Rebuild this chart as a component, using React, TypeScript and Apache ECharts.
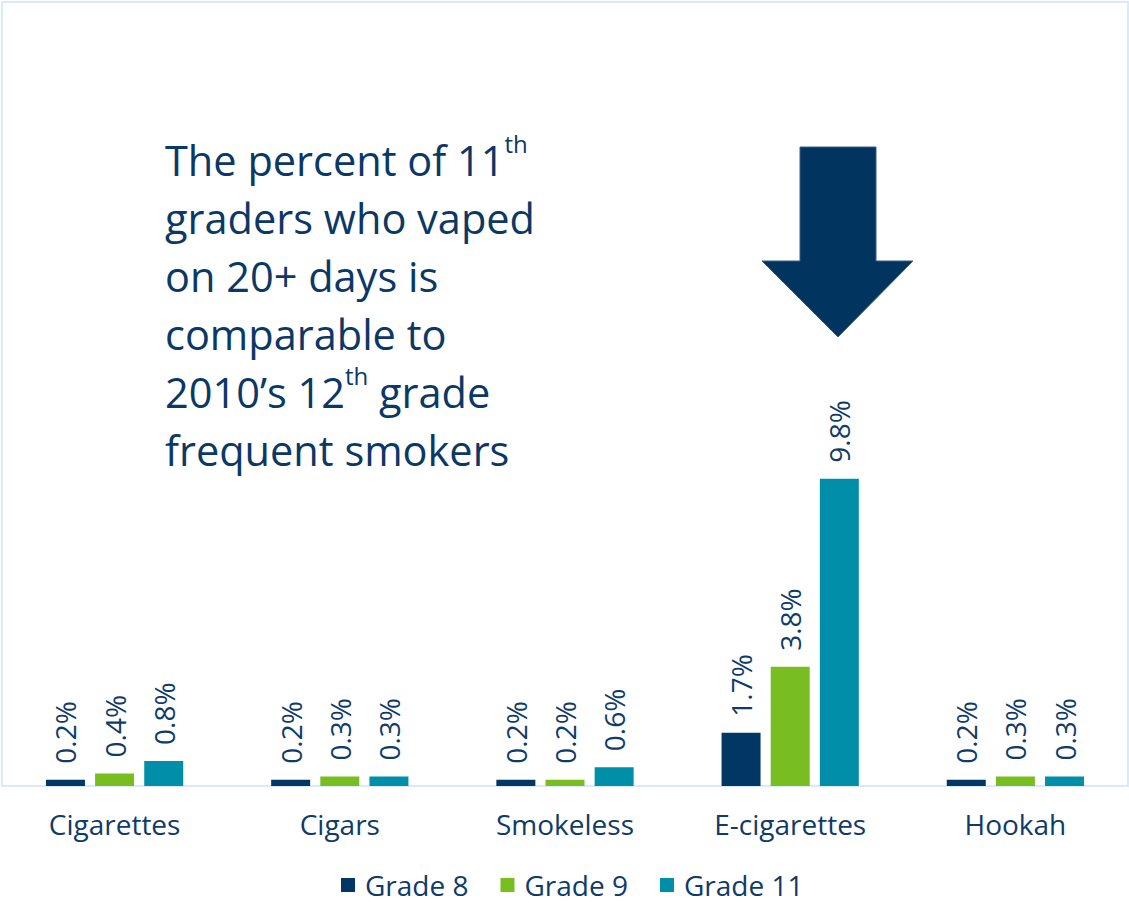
import React, { useEffect, useRef } from "react";
import * as echarts from "echarts";

const categories = ["Cigarettes", "Cigars", "Smokeless", "E-cigarettes", "Hookah"];
const seriesNames = ["Grade 8", "Grade 9", "Grade 11"];
const grade8 = [0.2, 0.2, 0.2, 1.7, 0.2];
const grade9 = [0.4, 0.3, 0.2, 3.8, 0.3];
const grade11 = [0.8, 0.3, 0.6, 9.8, 0.3];
const colors = ["#003764", "#78be21", "#008ea9"];
const textColor = "#0f3b68";
const FONT = "Open Sans";

export default function App() {
  const ref = useRef<HTMLDivElement>(null);
  useEffect(() => {
    if (!ref.current) return;
    const chart = echarts.init(ref.current, null, { renderer: "svg" });
    const data = [grade8, grade9, grade11];
    const series = data.map((d, i) => ({
      name: seriesNames[i],
      type: "bar",
      data: d,
      barWidth: 39,
      barGap: "26%",
      itemStyle: { color: colors[i] },
      label: {
        show: true,
        position: "top",
        rotate: 90,
        align: "left",
        verticalAlign: "middle",
        distance: 16,
        formatter: (p: any) => p.value.toFixed(1) + "%",
        fontFamily: FONT,
        fontSize: 28,
        color: textColor,
      },
    }));
    chart.setOption({
      animation: false,
      backgroundColor: "#ffffff",
      grid: {
        left: 2,
        right: 1,
        top: 2,
        bottom: 117,
        show: true,
        borderColor: "#d8eafc",
        borderWidth: 2,
      },
      xAxis: {
        type: "category",
        data: categories,
        axisLine: { show: true, lineStyle: { color: "#d8eafc", width: 2 } },
        axisTick: { show: false },
        axisLabel: {
          margin: 24,
          fontFamily: FONT,
          fontSize: 28,
          color: textColor,
        },
      },
      yAxis: {
        type: "value",
        min: 0,
        max: 25,
        show: false,
        splitLine: { show: false },
      },
      legend: {
        top: 870,
        left: 341,
        itemWidth: 14,
        itemHeight: 14,
        itemGap: 32,
        icon: "rect",
        padding: 0,
        textStyle: {
          fontFamily: FONT,
          fontSize: 28,
          lineHeight: 30,
          color: textColor,
          padding: [0, 0, 0, 5],
        },
        data: seriesNames,
      },
      series,
      graphic: [
        {
          type: "text",
          left: 165,
          top: 131,
          style: {
            text:
              "The percent of 11{sup|th}\ngraders who vaped\non 20+ days is\ncomparable to\n2010\u2019s 12{sup|th} grade\nfrequent smokers",
            fontFamily: FONT,
            fontSize: 41.5,
            lineHeight: 58,
            fill: "#0b3865",
            rich: {
              sup: {
                fontFamily: FONT,
                fontSize: 24,
                lineHeight: 40,
                verticalAlign: "top",
                fill: "#0b3865",
              },
            },
          },
        },
        {
          type: "polygon",
          shape: {
            points: [
              [800, 147],
              [876, 147],
              [876, 261],
              [913, 261],
              [838, 337],
              [762, 261],
              [800, 261],
            ],
          },
          style: { fill: "#013560", stroke: "#3d5f82", lineWidth: 1 },
        },
      ],
    });
    return () => chart.dispose();
  }, []);
  return (
    <div
      ref={ref}
      style={{ position: "fixed", left: 0, top: 0, width: 1129, height: 903 }}
    />
  );
}
